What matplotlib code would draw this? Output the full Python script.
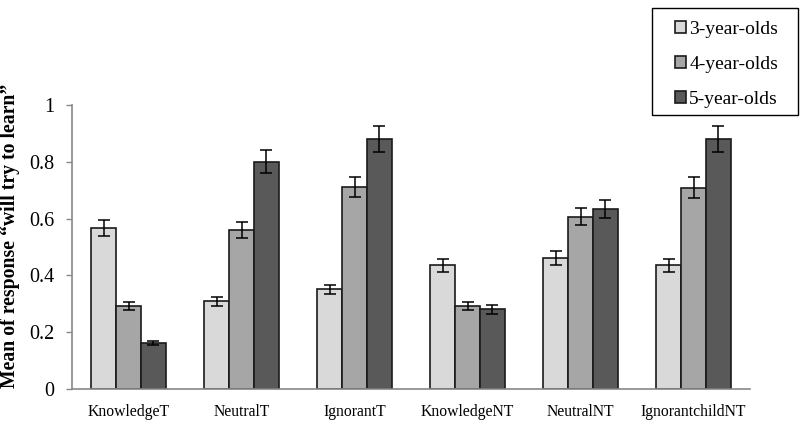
import matplotlib.pyplot as plt
from matplotlib.patches import Rectangle
import numpy as np

conditions = ['KnowledgeT', 'NeutralT', 'IgnorantT', 'KnowledgeNT', 'NeutralNT', 'IgnorantchildNT']
groups = ['3-year-olds', '4-year-olds', '5-year-olds']

means_3 = [0.567, 0.309, 0.351, 0.435, 0.462, 0.435]
means_4 = [0.292, 0.560, 0.710, 0.293, 0.606, 0.709]
means_5 = [0.162, 0.800, 0.880, 0.280, 0.635, 0.880]

err_3 = [0.028, 0.016, 0.015, 0.022, 0.025, 0.022]
err_4 = [0.015, 0.027, 0.035, 0.014, 0.030, 0.036]
err_5 = [0.008, 0.040, 0.045, 0.015, 0.032, 0.045]

colors = ['#d9d9d9', '#a6a6a6', '#595959']

plt.rcParams['font.family'] = ['Liberation Serif', 'DejaVu Serif']

W, H = 800, 426
fig = plt.figure(figsize=(W / 100, H / 100), dpi=100)
ax = fig.add_axes([72 / W, 1 - 389 / H, 678 / W, (389 - 105) / H])

x = np.arange(len(conditions))
w = 0.221
series = [(means_3, err_3), (means_4, err_4), (means_5, err_5)]
for i, (m, e) in enumerate(series):
    ax.bar(x + (i - 1) * w, m, w, yerr=e, color=colors[i], edgecolor='#1a1a1a',
           linewidth=1.2, label=groups[i], zorder=2,
           error_kw=dict(ecolor='black', elinewidth=1.1, capsize=4, capthick=1.1))

ax.set_xlim(-0.5, len(conditions) - 0.5)
ax.set_ylim(0, 1)
ax.set_yticks([0, 0.2, 0.4, 0.6, 0.8, 1])
ax.set_yticklabels(['0', '0.2', '0.4', '0.6', '0.8', '1'], fontsize=14.5)
ax.set_xticks(x)
ax.set_xticklabels(conditions, fontsize=11.3)
ax.tick_params(axis='x', length=0, pad=11)
ax.tick_params(axis='y', length=4.3, color='#888888', width=1, pad=8.5)

for s in ['top', 'right']:
    ax.spines[s].set_visible(False)
for s in ['left', 'bottom']:
    ax.spines[s].set_color('#888888')
    ax.spines[s].set_linewidth(1.2)

fig.text(10 / W, 1 - 236 / H, 'Mean of response \u201cwill try to learn\u201d', rotation=90,
         ha='center', va='center', fontsize=14.2, fontweight='bold')

# legend without its own frame, box drawn separately to get the wide padding
leg = fig.legend(loc='upper right', bbox_to_anchor=(778 / W, 1 - 21 / H), fontsize=14,
                 frameon=False, labelspacing=0.92, handlelength=0.6, handleheight=0.6,
                 handletextpad=0.15, borderpad=0, borderaxespad=0)
fig.patches.append(Rectangle((652 / W, 1 - 115 / H), 146 / W, 107 / H, transform=fig.transFigure,
                             fill=False, edgecolor='black', linewidth=1.0))

fig.savefig('out.png', dpi=100)
